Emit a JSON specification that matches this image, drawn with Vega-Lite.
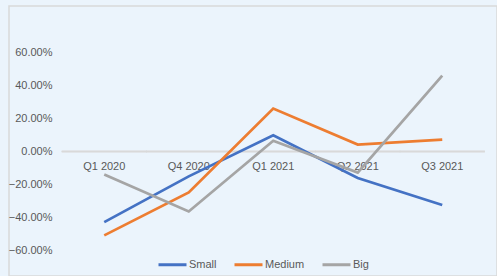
{
  "$schema": "https://vega.github.io/schema/vega-lite/v6.json",
  "width": 488,
  "height": 270,
  "autosize": {"type": "none"},
  "padding": {"left": 9, "top": 6, "right": 0, "bottom": 0},
  "background": "#EBF4FC",
  "config": {
    "view": {"stroke": "#D9D9D9", "strokeWidth": 1.5},
    "font": "Liberation Sans"
  },
  "data": {
    "values": [
      {"quarter": "Q1 2020", "size": "Small", "value": -0.426},
      {"quarter": "Q4 2020", "size": "Small", "value": -0.15},
      {"quarter": "Q1 2021", "size": "Small", "value": 0.098},
      {"quarter": "Q2 2021", "size": "Small", "value": -0.16},
      {"quarter": "Q3 2021", "size": "Small", "value": -0.323},
      {"quarter": "Q1 2020", "size": "Medium", "value": -0.506},
      {"quarter": "Q4 2020", "size": "Medium", "value": -0.247},
      {"quarter": "Q1 2021", "size": "Medium", "value": 0.259},
      {"quarter": "Q2 2021", "size": "Medium", "value": 0.042},
      {"quarter": "Q3 2021", "size": "Medium", "value": 0.072},
      {"quarter": "Q1 2020", "size": "Big", "value": -0.139},
      {"quarter": "Q4 2020", "size": "Big", "value": -0.362},
      {"quarter": "Q1 2021", "size": "Big", "value": 0.065},
      {"quarter": "Q2 2021", "size": "Big", "value": -0.127},
      {"quarter": "Q3 2021", "size": "Big", "value": 0.458}
    ]
  },
  "encoding": {
    "x": {
      "field": "quarter",
      "type": "nominal",
      "sort": ["Q1 2020", "Q4 2020", "Q1 2021", "Q2 2021", "Q3 2021"],
      "scale": {"paddingInner": 0, "paddingOuter": 0.3876, "align": 0.809},
      "axis": {
        "title": null,
        "orient": "bottom",
        "offset": -124.5,
        "domain": false,
        "ticks": false,
        "tickSize": 0,
        "grid": false,
        "labelAngle": 0,
        "labelPadding": 9,
        "labelFontSize": 11,
        "labelColor": "#595959",
        "labelFont": "Liberation Sans"
      }
    }
  },
  "layer": [
    {
      "mark": {"type": "tick", "orient": "horizontal", "color": "#D9D9D9", "thickness": 1.5, "size": 85, "opacity": 1},
      "encoding": {
        "y": {"datum": 0, "type": "quantitative"}
      }
    },
    {
      "mark": {"type": "line", "strokeWidth": 2.75},
      "encoding": {
        "y": {
          "field": "value",
          "type": "quantitative",
          "scale": {"domain": [-0.751, 0.8776], "nice": false, "zero": false},
          "axis": {
            "title": null,
            "values": [-0.6, -0.4, -0.2, 0, 0.2, 0.4, 0.6],
            "format": ".2%",
            "offset": -43,
            "domain": false,
            "ticks": false,
            "tickSize": 0,
            "labelPadding": 0,
            "grid": false,
            "labelFontSize": 11,
            "labelColor": "#595959",
            "labelFont": "Liberation Sans"
          }
        },
        "color": {
          "field": "size",
          "type": "nominal",
          "scale": {"domain": ["Small", "Medium", "Big"], "range": ["#4472C4", "#ED7D31", "#A5A5A5"]},
          "legend": {
            "title": null,
            "orient": "none",
            "direction": "horizontal",
            "legendX": 148,
            "legendY": 243,
            "symbolType": "stroke",
            "symbolSize": 784,
            "symbolStrokeWidth": 3,
            "labelFontSize": 11,
            "labelColor": "#595959",
            "labelFont": "Liberation Sans",
            "labelOffset": 1,
            "columnPadding": 11
          }
        }
      }
    }
  ]
}
